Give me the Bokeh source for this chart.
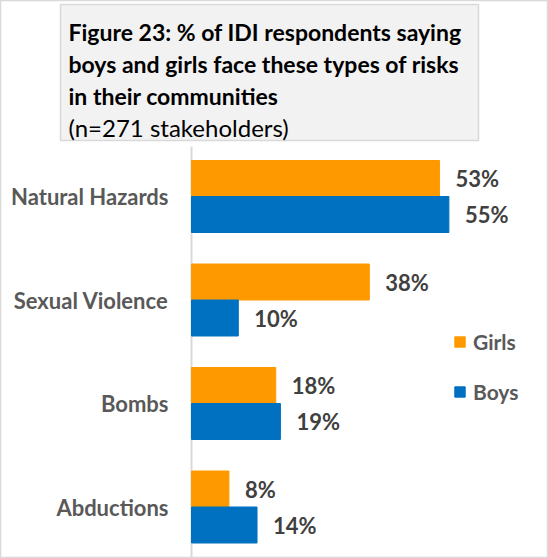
from bokeh.plotting import figure
from bokeh.models import ColumnDataSource, Range1d
from bokeh.core.properties import value
from bokeh.embed import file_html
from bokeh.resources import INLINE

# ---- data ----
categories = ["Natural Hazards", "Sexual Violence", "Bombs", "Abductions"]
girls = [53, 38, 18, 8]
boys = [55, 10, 19, 14]
series = ["Girls", "Boys"]
title_lines = ["Figure 23: % of IDI respondents saying",
               "boys and girls face these types of risks",
               "in their communities"]
subtitle = "(n=271 stakeholders)"

# ---- geometry (pixels) ----
W, H = 548, 558
X0 = 191.0      # pixel of 0%
XS = 4.68       # pixels per percent
Y_FIRST = 196.0 # pixel centre of first category
Y_STEP = 103.5  # pixels per category
n = len(categories)
y_last_px = Y_FIRST + Y_STEP * (n - 1)

def dx(px):
    return (px - X0) / XS

def dy(py):
    return (y_last_px - py) / Y_STEP

FONT = "Lato"
ORANGE = "#FF9900"
BLUE = "#0070C0"
BAR_H = 36.0 / Y_STEP

pos = [n - 1 - i for i in range(n)]
src = ColumnDataSource(dict(
    cat=categories,
    pos=pos,
    girls=girls,
    boys=boys,
    gy=[v + BAR_H / 2 for v in pos],
    by=[v - BAR_H / 2 for v in pos],
    glab=[f"{v}%" for v in girls],
    blab=[f"{v}%" for v in boys],
))

p = figure(width=W, height=H,
           x_range=Range1d(dx(0), dx(W)), y_range=Range1d(dy(H), dy(0)),
           output_backend="svg", toolbar_location=None, min_border=0,
           x_axis_type=None, y_axis_type=None)
p.grid.visible = False
p.outline_line_color = "#d9d9d9"
p.outline_line_width = 1.5
p.background_fill_color = "white"
p.border_fill_color = "white"

# vertical axis line
p.segment(x0=[0], y0=[dy(146)], x1=[0], y1=[dy(H)], line_color="#d9d9d9", line_width=2)

# bars
p.hbar(y="gy", right="girls", left=0, height=BAR_H, source=src,
       fill_color=ORANGE, line_color=ORANGE, legend_label=series[0])
p.hbar(y="by", right="boys", left=0, height=BAR_H, source=src,
       fill_color=BLUE, line_color=BLUE, legend_label=series[1])

# value labels
lab_kw = dict(text_font=value(FONT), text_font_style="bold", text_font_size="22px",
              text_color="#404040", text_align="left", text_baseline="middle", x_offset=16)
p.text(x="girls", y="gy", text="glab", source=src, **lab_kw)
p.text(x="boys", y="by", text="blab", source=src, **lab_kw)

# category labels
p.text(x=0, y="pos", text="cat", source=src, x_offset=-23,
       text_font=value(FONT), text_font_style="bold", text_font_size="22px",
       text_color="#595959", text_align="right", text_baseline="middle")

# title box
p.quad(left=[dx(60)], right=[dx(478)], top=[dy(4)], bottom=[dy(140)],
       fill_color="#f2f2f2", line_color="#d9d9d9", line_width=1.5)
p.text(x=[dx(68)] * 3, y=[dy(31), dy(63), dy(95)], text=title_lines,
       text_font=value(FONT), text_font_style="bold", text_font_size="23px",
       text_color="#000000", text_align="left", text_baseline="alphabetic")
p.text(x=[dx(68)], y=[dy(127)], text=[subtitle],
       text_font=value(FONT), text_font_style="normal", text_font_size="24px",
       text_color="#000000", text_align="left", text_baseline="alphabetic")

# legend
lg = p.legend[0]
lg.location = (453, 558 - 404)
lg.orientation = "vertical"
lg.glyph_width = 13
lg.glyph_height = 13
lg.label_height = 20
lg.spacing = 25
lg.padding = 0
lg.margin = 0
lg.label_standoff = 7
lg.label_text_font = FONT
lg.label_text_font_style = "bold"
lg.label_text_font_size = "21px"
lg.label_text_color = "#595959"
lg.border_line_color = None
lg.background_fill_alpha = 0

open("out.html", "w").write(file_html(p, INLINE))
